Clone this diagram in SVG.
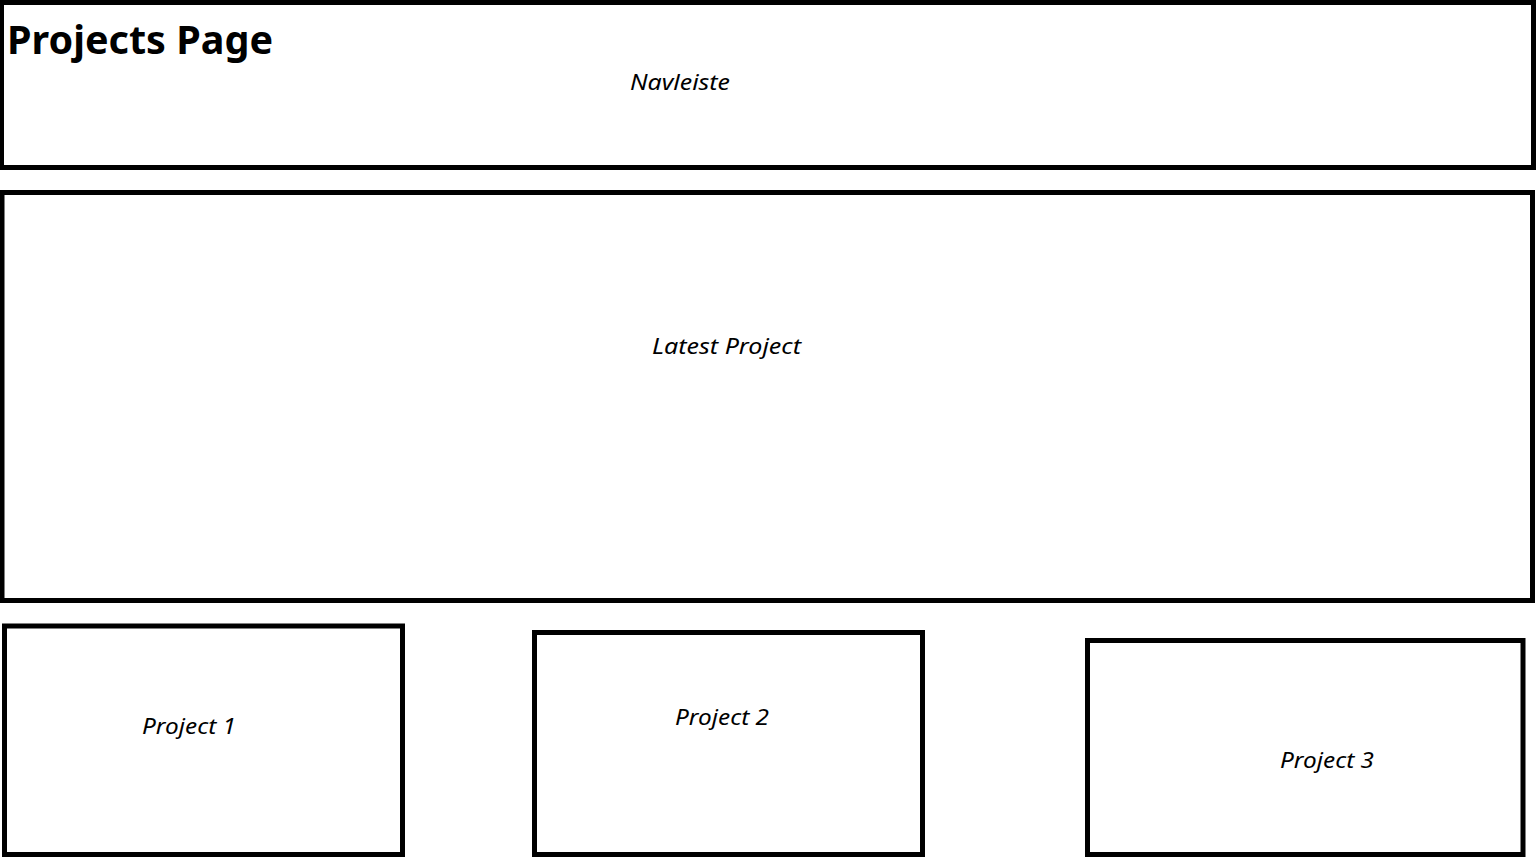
<svg xmlns="http://www.w3.org/2000/svg" width="1536" height="864" viewBox="0 0 1536 864">
<style>
.box{fill:#fff;stroke:#000;stroke-width:5}
.lbl{font-family:"Noto Sans","Open Sans","Liberation Sans",sans-serif;font-style:italic;font-size:22px;fill:#000}
.title{font-family:"Noto Sans","Open Sans","Liberation Sans",sans-serif;font-weight:bold;font-size:40px;fill:#000}
</style>
<rect width="1536" height="864" fill="#fff"/>
<g id="nav">
<rect class="box" x="1.5" y="2.5" width="1532" height="165"/>
<text class="title" x="7" y="54" textLength="266" lengthAdjust="spacingAndGlyphs">Projects Page</text>
<text class="lbl" x="630" y="90" textLength="100" lengthAdjust="spacingAndGlyphs">Navleiste</text>
</g>
<g id="latest">
<rect class="box" x="2" y="192.5" width="1530.5" height="408"/>
<text class="lbl" x="652" y="354" textLength="149" lengthAdjust="spacingAndGlyphs">Latest Project</text>
</g>
<g id="project1">
<rect class="box" x="4.5" y="626" width="398" height="228.5"/>
<text class="lbl" x="142" y="734" textLength="94" lengthAdjust="spacingAndGlyphs">Project 1</text>
</g>
<g id="project2">
<rect class="box" x="534.5" y="632.5" width="388" height="222"/>
<text class="lbl" x="675" y="725" textLength="94" lengthAdjust="spacingAndGlyphs">Project 2</text>
</g>
<g id="project3">
<rect class="box" x="1087.5" y="640.5" width="435.5" height="214"/>
<text class="lbl" x="1280" y="768" textLength="94" lengthAdjust="spacingAndGlyphs">Project 3</text>
</g>
<g id="connectors"/>
</svg>
